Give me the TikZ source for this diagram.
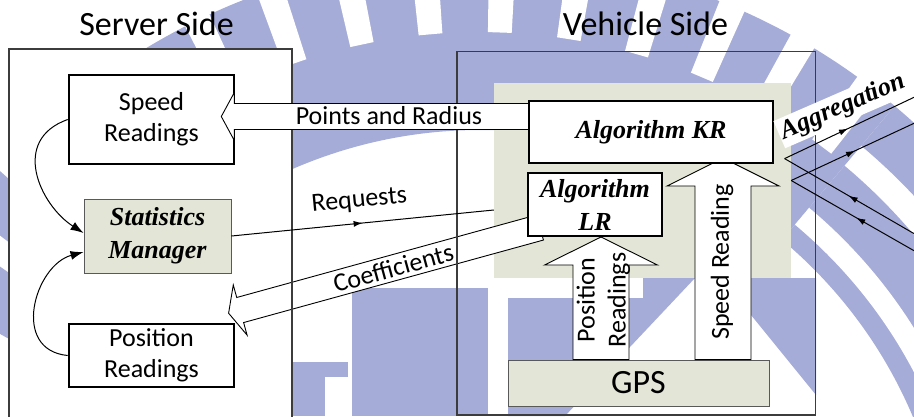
\documentclass[tikz,border=0pt]{standalone}
\usepackage{fontspec}
\setmainfont{Carlito}
\newfontfamily\timesfont{Liberation Serif}
\usetikzlibrary{calc,arrows.meta,decorations.markings}

\definecolor{wmblue}{RGB}{166,172,216}
\definecolor{panelgreen}{RGB}{227,229,214}
\definecolor{framegray}{RGB}{60,60,60}

\newcommand{\labelfont}{\fontsize{26}{31}\selectfont}
\newcommand{\algofont}{\fontsize{26}{33}\selectfont\timesfont\bfseries\itshape}
\newcommand{\titlefont}{\fontsize{34}{40}\selectfont}

% block arrow: tail, tip, half shaft, half head, head length
\newcommand{\blockarrow}[5]{%
  \coordinate (hb) at ($(#2)!#5!(#1)$);
  \draw[barrow] ($(#1)!#3!90:(#2)$) -- ($(hb)!#3!-90:(#1)$) -- ($(hb)!#4!-90:(#1)$) -- (#2)
    -- ($(hb)!#4!90:(#1)$) -- ($(hb)!#3!90:(#1)$) -- ($(#1)!#3!-90:(#2)$) -- cycle;
}

\tikzset{
  databox/.style={draw=black, line width=2.6pt, fill=white, font=\labelfont, align=center, inner sep=2pt},
  algobox/.style={draw=black, line width=2.6pt, fill=white, font=\algofont, align=center, inner sep=2pt},
  greybox/.style={draw=black!65, line width=0.9pt, fill=panelgreen, inner sep=2pt},
  sidebox/.style={draw=framegray, line width=1.1pt},
  barrow/.style={draw=black, line width=0.9pt, fill=white},
  arrowtext/.style={font=\labelfont, inner sep=0pt},
  flow/.style={draw=black, line width=1pt},
  midarrow/.style={postaction={decorate}, decoration={markings, mark=at position #1 with {\arrow{Latex[length=9pt,width=6pt]}}}},
}

\begin{document}
\begin{tikzpicture}[x=1pt, y=-1pt]
    \useasboundingbox (0,0) rectangle (914,416);
    \clip (0,0) rectangle (914,416);

    % Watermark in the background
    \begin{scope}[shift={(480,600)}]
        \fill[wmblue] (50:470pt) arc[start angle=50, end angle=151, radius=470pt]
            -- (151:645pt) arc[start angle=151, end angle=50, radius=645pt] -- cycle;
        \fill[wmblue] (-40:470pt) arc[start angle=-40, end angle=50, radius=470pt]
            -- (50:567pt) arc[start angle=50, end angle=-40, radius=567pt] -- cycle;
        \fill[wmblue] (-40:593pt) arc[start angle=-40, end angle=50, radius=593pt]
            -- (50:645pt) arc[start angle=50, end angle=-40, radius=645pt] -- cycle;
        \foreach \a in {53,60,...,151}
            \fill[white] ({\a-1.2}:568pt) -- ({\a-1.2}:650pt) -- ({\a+1.2}:650pt) -- ({\a+1.2}:568pt) -- cycle;
        \fill[white] (-40:490pt) arc[start angle=-40, end angle=50, radius=490pt]
            -- (50:512pt) arc[start angle=50, end angle=-40, radius=512pt] -- cycle;
    \end{scope}
    \fill[wmblue] (352,288) rectangle (488,416);
    \fill[wmblue] (508,298) -- (643,298) -- (643,278) -- (695,278) -- (565,416) -- (508,416) -- cycle;
    \fill[wmblue] (751,278) -- (816,278) -- (816,395) -- (751,315) -- cycle;
    \fill[wmblue] (292,362) rectangle (348,377);
    \fill[wmblue] (292,377) rectangle (325,416);

    % Titles
    \node[font=\titlefont, anchor=base, inner sep=0pt] (srvtitle) at (156.5,35) {Server Side};
    \node[font=\titlefont, anchor=base, inner sep=0pt] (vehtitle) at (645.5,35) {Vehicle Side};

    % Server side area and vehicle panel
    \fill[white] (9,49) rectangle (292,430);
    \node[fill=panelgreen, minimum width=297pt, minimum height=195pt, inner sep=0pt] (panel) at (642.5,180.5) {};

    % Coefficients arrow (under the frames)
    \coordinate (cfTail) at (540,227.5);
    \coordinate (cfTip) at (228.6,313.2);
    \blockarrow{cfTail}{cfTip}{13pt}{26pt}{12pt}

    % Frames of both sides
    \draw[sidebox] (9,49) rectangle (292,430);
    \draw[sidebox] (457,51.5) rectangle (815.5,415);

    % Server side boxes
    \node[databox, minimum width=165pt, minimum height=89pt] (speed) at (151.5,119.5) {Speed\\Readings};
    \node[greybox, font=\algofont, align=center, minimum width=147pt, minimum height=74pt] (stats) at (157.5,236) {Statistics\\Manager};
    \node[databox, minimum width=165pt, minimum height=63pt] (pos) at (151.5,355.5) {Position\\Readings};

    % Points and Radius arrow
    \coordinate (prTail) at (535,116.5);
    \coordinate (prTip) at ($(speed.east |- prTail)+(-14,0)$);
    \blockarrow{prTail}{prTip}{13pt}{24pt}{13pt}

    % Vehicle side boxes
    \node[greybox, font=\titlefont, minimum width=261pt, minimum height=46pt] (gps) at (638.5,383) {GPS};
    \coordinate (psTip) at (601,237);
    \coordinate (psTail) at (psTip |- gps.north);
    \blockarrow{psTail}{psTip}{28pt}{56.5pt}{28pt}
    \coordinate (srTip) at (723,158);
    \coordinate (srTail) at (srTip |- gps.north);
    \blockarrow{srTail}{srTip}{28pt}{56pt}{28pt}
    \node[algobox, minimum width=244pt, minimum height=62pt] (kr) at (651,132) {Algorithm KR};
    \node[algobox, minimum width=134pt, minimum height=63pt] (lr) at (595,204.5) {Algorithm\\LR};

    % Labels in the block arrows
    \node[arrowtext, anchor=base] (prText) at (389,124.3) {Points and Radius};
    \node[arrowtext, rotate=15.3] (cfText) at (393.3,267.8) {Coefficients};
    \node[arrowtext, rotate=90, align=center] (psText) at (603.3,300) {Position\\Readings};
    \node[arrowtext, rotate=90] (srText) at (722,262) {Speed Reading};

    % Requests
    \coordinate (reqEnd) at ($(panel.west)+(0,29.5)$);
    \draw[flow, midarrow=0.5] (stats.east) -- (reqEnd);
    \node[arrowtext, rotate=5.5, anchor=base] (reqText) at (360,207) {Requests};

    % Readings into the statistics manager
    \draw[flow, -{Latex[length=13pt,width=9pt]}] (speed.west) .. controls (10,140) and (40,205) .. ($(stats.west)+(0,-3)$);
    \draw[flow, -{Latex[length=13pt,width=9pt]}] (pos.west) .. controls (10,350) and (35,265) .. ($(stats.west)+(0,16)$);

    % Aggregation links
    \coordinate (aggA) at ($(kr.south east)+(10.3,-5.7)$);
    \coordinate (aggB) at (panel.east);
    \coordinate (outA) at (914,97.3);
    \coordinate (outB) at (914,123.3);
    \coordinate (inA) at (914,233.6);
    \coordinate (inB) at (914,250.7);
    \draw[flow, midarrow=0.49] (aggA) -- (outA);
    \draw[flow, midarrow=0.52] (aggB) -- (outB);
    \draw[flow, midarrow=0.505] (inA) -- (aggA);
    \draw[flow, midarrow=0.47] (inB) -- (aggB);
    \node[font=\algofont, fill=white, inner sep=3pt, rotate=23.5] (agg) at (843,107) {Aggregation};
\end{tikzpicture}
\end{document}
